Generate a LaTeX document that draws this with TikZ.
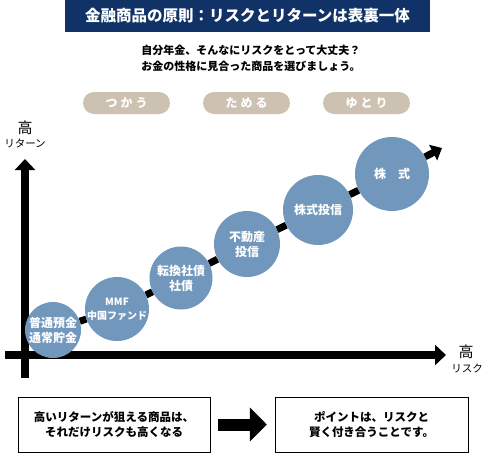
\documentclass[tikz,border=0pt]{standalone}
\usepackage{fontspec}
\setmainfont{Noto Sans CJK JP}
\usepackage{xcolor}
\usetikzlibrary{arrows.meta,positioning}
\definecolor{titlenavy}{RGB}{16,50,102}
\definecolor{pilltan}{RGB}{205,194,177}
\definecolor{bubbleblue}{RGB}{114,151,188}
\newcommand{\pillfont}{\bfseries\fontsize{12}{14}\selectfont\addfontfeature{LetterSpace=25}}

\begin{document}
\begin{tikzpicture}[x=1pt, y=-1pt,
      titlebar/.style={fill=titlenavy, text=white, minimum width=365pt, minimum height=32pt,
                  font=\bfseries\fontsize{15.5}{18}\selectfont},
      pill/.style={fill=pilltan, text=white, rounded corners=11pt, minimum width=87pt,
                  minimum height=22pt, font=\pillfont},
      bubble/.style={circle, fill=bubbleblue, text=white, align=center, inner sep=0pt,
                  font=\bfseries\fontsize{12}{15}\selectfont},
      msgbox/.style={draw=black, thin, minimum height=55pt, align=center,
                  font=\bfseries\fontsize{11.5}{15}\selectfont},
      axis/.style={line width=8pt, -{Triangle[width=20pt,length=11pt]}},
      trendline/.style={line width=7pt},
      trend/.style={line width=7pt, -{Triangle[width=17pt,length=10pt]}},
      bigarrow/.style={line width=12pt, -{Triangle[width=33pt,length=17pt]}}
    ]
      \useasboundingbox (0,0) rectangle (485,456);

      % --- heading ---
      \node[titlebar] (title) at (247.5,16) {金融商品の原則：リスクとリターンは表裏一体};
      \node[align=left, font=\bfseries\fontsize{11}{16}\selectfont] (lead) at (251,58)
        {自分年金、そんなにリスクをとって大丈夫？\\お金の性格に見合った商品を選びましょう。};

      \node[pill] (use)   at (126.5,103) {つかう};
      \node[pill] (save)  at (246.5,103) {ためる};
      \node[pill] (spare) at (366.5,103) {ゆとり};

      % --- axes ---
      \coordinate (ybot)   at (25,378);
      \coordinate (ytop)   at (25,159);
      \coordinate (xleft)  at (5,355);
      \coordinate (xright) at (446,355);
      \draw[axis] (ybot)  -- (ytop);
      \draw[axis] (xleft) -- (xright);

      \node[font=\fontsize{15}{15}\selectfont, inner sep=0pt] (rethigh) at (25,128) {高};
      \node[font=\fontsize{10.5}{11}\selectfont, inner sep=0pt] (retlbl) at (25,143) {リターン};
      \node[font=\fontsize{15}{15}\selectfont, inner sep=0pt] (riskhigh) at (466,352) {高};
      \node[font=\fontsize{10.5}{11}\selectfont, inner sep=0pt] (risklbl) at (467,368) {リスク};

      % --- products along the trend ---
      \node[bubble, minimum size=56pt] (deposit) at (53,330)  {普通預金\\通常貯金};
      \node[bubble, minimum size=60pt, font=\bfseries\fontsize{10}{14}\selectfont]
                                       (mmf)     at (117,309) {MMF\\中国ファンド};
      \node[bubble, minimum size=63pt] (bond)    at (181,278) {転換社債\\社債};
      \node[bubble, minimum size=66pt] (reit)    at (247,244) {不動産\\投信};
      \node[bubble, minimum size=70pt] (fund)    at (318,210) {株式投信};
      \node[bubble, minimum size=74pt] (stock)   at (392,174) {株　式};
      \coordinate (trendtip) at (442,148);

      \draw[trendline] (deposit) -- (mmf);
      \draw[trendline] (mmf)     -- (bond);
      \draw[trendline] (bond)    -- (reit);
      \draw[trendline] (reit)    -- (fund);
      \draw[trendline] (fund)    -- (stock);
      \draw[trend]     (stock)   -- (trendtip);

      % --- conclusion ---
      \node[msgbox, minimum width=192pt] (cause)  at (114,424.5)
        {高いリターンが狙える商品は、\\それだけリスクも高くなる};
      \node[msgbox, minimum width=193pt] (advice) at (371.5,424.5)
        {ポイントは、リスクと\\賢く付き合うことです。};
      \draw[bigarrow] ([xshift=8pt]cause.east) -- ([xshift=-8pt]advice.west);
    \end{tikzpicture}
\end{document}
